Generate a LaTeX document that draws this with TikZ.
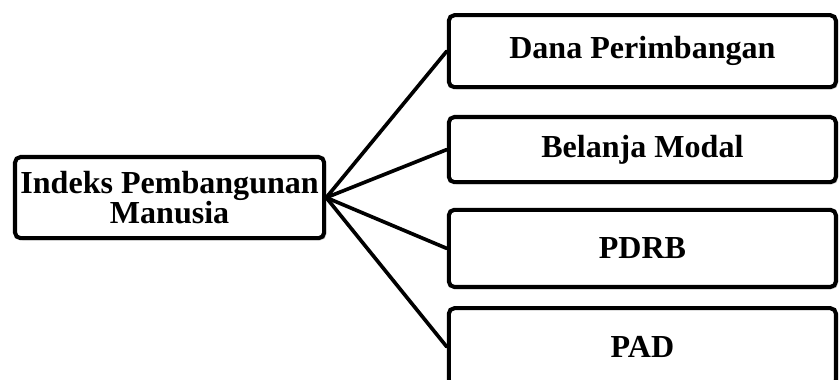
\documentclass[tikz,border=0pt]{standalone}
\usepackage{fontspec}
\setmainfont{Liberation Serif}
\usepackage{tikz}
\usetikzlibrary{positioning, shadows}
\definecolor{boxline}{RGB}{0,0,0}
\definecolor{shadowgray}{RGB}{120,120,120}
\tikzset{
  block/.style={rectangle, rounded corners=4pt, draw=boxline, line width=2.9pt,
    fill=white, align=center, inner sep=2pt,
    font=\bfseries\fontsize{22.8}{21}\selectfont,
    drop shadow={shadow xshift=1.5pt, shadow yshift=-1.5pt, opacity=0.35, fill=shadowgray}},
  varblock/.style={block, minimum width=9.68cm},
  link/.style={line width=2.6pt, color=boxline, line cap=round},
}

\begin{document}
\begin{tikzpicture}
  \useasboundingbox (0,0) rectangle (21,9.5);
  % dependent variable
  \node[block, minimum width=7.73cm, minimum height=2.03cm] (ipm) at (4.24,4.56)
    {Indeks Pembangunan\\Manusia};
  % independent variables
  \node[varblock, minimum height=1.8cm]  (dana)    at (16.06,8.22) {Dana Perimbangan};
  \node[varblock, minimum height=1.63cm] (belanja) at (16.06,5.76) {Belanja Modal};
  \node[varblock, minimum height=1.93cm] (pdrb)    at (16.06,3.29) {PDRB};
  \node[varblock, minimum height=1.93cm] (pad)     at (16.06,0.83) {PAD};
  \foreach \v in {dana, belanja, pdrb, pad}
    \draw[link] (ipm.east) -- (\v.west);
\end{tikzpicture}
\end{document}
